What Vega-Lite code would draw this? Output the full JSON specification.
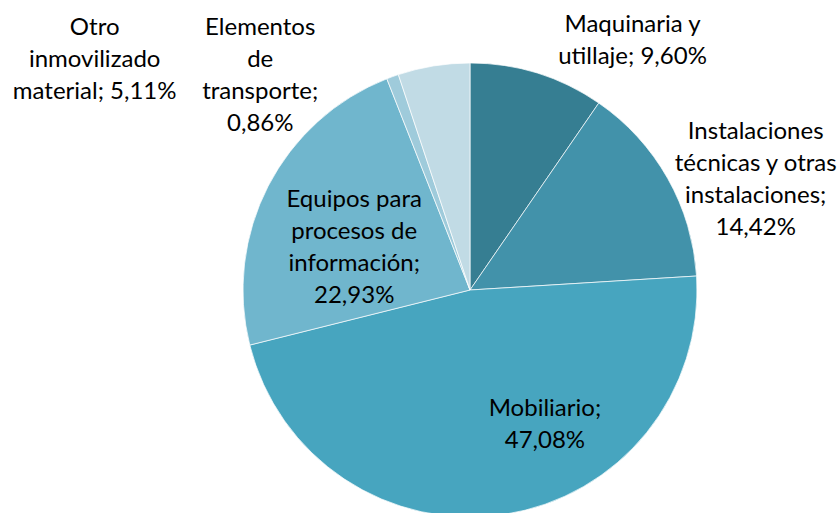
{
  "$schema": "https://vega.github.io/schema/vega-lite/v6.json",
  "width": 940,
  "height": 580,
  "autosize": "none",
  "padding": 0,
  "background": "white",
  "config": {"view": {"stroke": null}},
  "data": {
    "values": [
      {"order": 1, "name": "Maquinaria y utillaje", "value": 9.60, "label": "Maquinaria y\nutillaje; 9,60%"},
      {"order": 2, "name": "Instalaciones técnicas y otras instalaciones", "value": 14.42, "label": "Instalaciones\ntécnicas y otras\ninstalaciones;\n14,42%"},
      {"order": 3, "name": "Mobiliario", "value": 47.08, "label": "Mobiliario;\n47,08%"},
      {"order": 4, "name": "Equipos para procesos de información", "value": 22.93, "label": "Equipos para\nprocesos de\ninformación;\n22,93%"},
      {"order": 5, "name": "Elementos de transporte", "value": 0.86, "label": "Elementos\nde\ntransporte;\n0,86%"},
      {"order": 6, "name": "Otro inmovilizado material", "value": 5.11, "label": "Otro\ninmovilizado\nmaterial; 5,11%"}
    ]
  },
  "transform": [
    {"stack": "value", "groupby": [], "sort": [{"field": "order", "order": "ascending"}], "as": ["v0", "v1"]},
    {"calculate": "(datum.v0 + datum.v1) / 2", "as": "mid"}
  ],
  "layer": [
    {
      "mark": {"type": "arc", "outerRadius": 227, "stroke": "white", "strokeWidth": 0.7},
      "encoding": {
        "theta": {"field": "v0", "type": "quantitative", "scale": {"domain": [0, 100]}},
        "theta2": {"field": "v1"},
        "color": {
          "field": "name", "type": "nominal", "legend": null,
          "scale": {
            "domain": ["Maquinaria y utillaje", "Instalaciones técnicas y otras instalaciones", "Mobiliario", "Equipos para procesos de información", "Elementos de transporte", "Otro inmovilizado material"],
            "range": ["#367e92", "#4292aa", "#47a5bf", "#70b6cd", "#9fcbdb", "#c1dbe5"]
          }
        }
      }
    },
    {
      "transform": [{"filter": "datum.order == 1"}],
      "mark": {"type": "text", "radius": 261, "dx": 85, "dy": -16, "font": "Lato", "fontSize": 24, "lineHeight": 32, "lineBreak": "\n", "baseline": "middle", "align": "center", "color": "#000000"},
      "encoding": {"theta": {"field": "mid", "type": "quantitative", "scale": {"domain": [0, 100]}}, "text": {"field": "label"}}
    },
    {
      "transform": [{"filter": "datum.order == 2"}],
      "mark": {"type": "text", "radius": 222.5, "dx": 92, "dy": -48, "font": "Lato", "fontSize": 24, "lineHeight": 32, "lineBreak": "\n", "baseline": "middle", "align": "center", "color": "#000000"},
      "encoding": {"theta": {"field": "mid", "type": "quantitative", "scale": {"domain": [0, 100]}}, "text": {"field": "label"}}
    },
    {
      "transform": [{"filter": "datum.order == 3"}],
      "mark": {"type": "text", "radius": 137, "dx": 54, "dy": -16, "font": "Lato", "fontSize": 24, "lineHeight": 32, "lineBreak": "\n", "baseline": "middle", "align": "center", "color": "#000000"},
      "encoding": {"theta": {"field": "mid", "type": "quantitative", "scale": {"domain": [0, 100]}}, "text": {"field": "label"}}
    },
    {
      "transform": [{"filter": "datum.order == 4"}],
      "mark": {"type": "text", "radius": 92, "dx": -34, "dy": -48, "font": "Lato", "fontSize": 24, "lineHeight": 32, "lineBreak": "\n", "baseline": "middle", "align": "center", "color": "#000000"},
      "encoding": {"theta": {"field": "mid", "type": "quantitative", "scale": {"domain": [0, 100]}}, "text": {"field": "label"}}
    },
    {
      "transform": [{"filter": "datum.order == 5"}],
      "mark": {"type": "text", "radius": 228, "dx": -132, "dy": -48, "font": "Lato", "fontSize": 24, "lineHeight": 32, "lineBreak": "\n", "baseline": "middle", "align": "center", "color": "#000000"},
      "encoding": {"theta": {"field": "mid", "type": "quantitative", "scale": {"domain": [0, 100]}}, "text": {"field": "label"}}
    },
    {
      "transform": [{"filter": "datum.order == 6"}],
      "mark": {"type": "text", "radius": 233.5, "dx": -338, "dy": -32, "font": "Lato", "fontSize": 24, "lineHeight": 32, "lineBreak": "\n", "baseline": "middle", "align": "center", "color": "#000000"},
      "encoding": {"theta": {"field": "mid", "type": "quantitative", "scale": {"domain": [0, 100]}}, "text": {"field": "label"}}
    }
  ]
}
